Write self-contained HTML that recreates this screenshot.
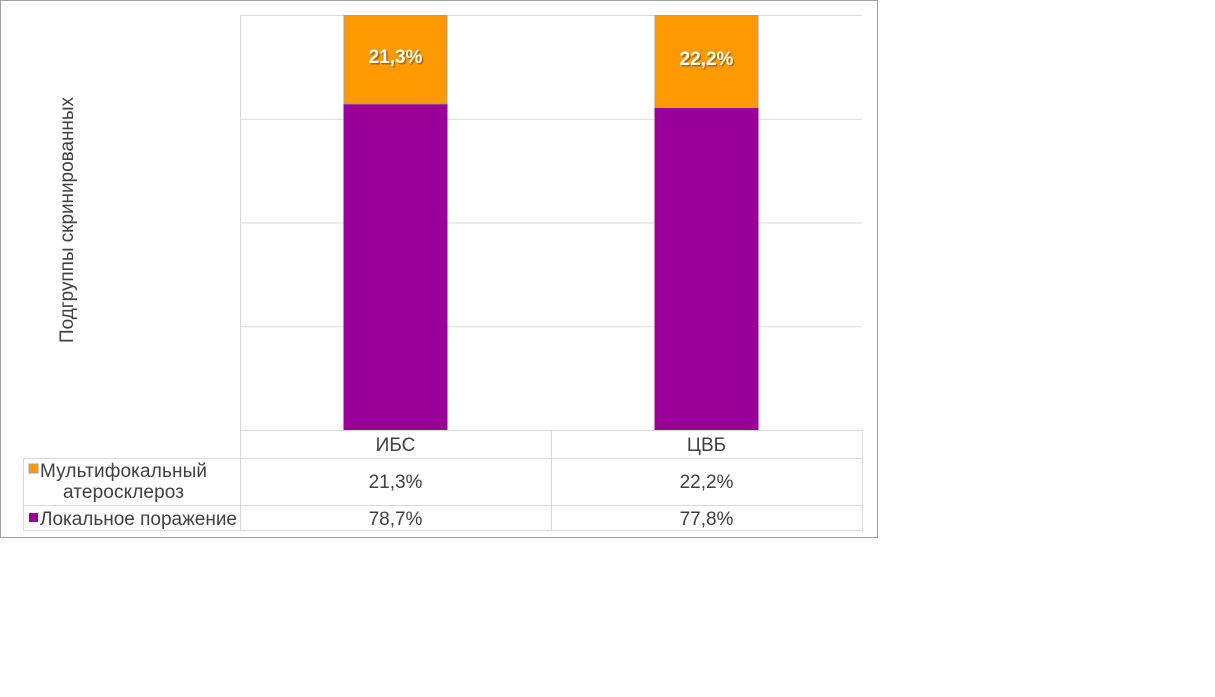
<!DOCTYPE html>
<html><head><meta charset="utf-8"><style>
body{margin:0;background:#fff;width:1215px;height:697px;overflow:hidden}
svg{display:block;font-family:"Liberation Sans",sans-serif}
</style></head><body>
<svg id="c" width="1215" height="697">
<rect x="0.5" y="0.5" width="877" height="537" fill="#fff" stroke="#a0a0a0"/>
<text transform="translate(73,220) rotate(-90)" text-anchor="middle" font-size="19" fill="#404040" textLength="246">Подгруппы скринированных</text>
<g id="grid"></g><g id="bars"></g><g id="tbl"></g>
</svg>
<script>
const categories=["ИБС","ЦВБ"];
const multi=[21.3,22.2];
const local=[78.7,77.8];
const seriesNames=["Мультифокальный атеросклероз","Локальное поражение"];
const ticks=[0,25,50,75,100];
const NS="http://www.w3.org/2000/svg";
const X0=240,X1=862,Y0=430,Y1=15;
const y=v=>Y0-(v/100)*(Y0-Y1);
const colW=(X1-X0)/categories.length;
const cx=i=>X0+colW*(i+0.5);
const FS=19;
function mk(t,a,p,txt){const e=document.createElementNS(NS,t);for(const k in a)e.setAttribute(k,a[k]);if(txt!=null)e.textContent=txt;p.appendChild(e);return e;}
const grid=document.getElementById('grid'),bars=document.getElementById('bars'),tbl=document.getElementById('tbl');
ticks.forEach(t=>{const l=mk('line',{x1:X0,x2:X1,y1:y(t)+0.5,y2:y(t)+0.5,stroke:'#d9d9d9'},grid);

});
const vl=mk('line',{x1:X0+0.5,x2:X0+0.5,y1:Y1,y2:Y0,stroke:'#d9d9d9'},grid);


const bw=104;
categories.forEach((c,i)=>{
 const b1=mk('rect',{x:cx(i)-bw/2,y:y(local[i]),width:bw,height:y(0)-y(local[i]),fill:'#990099'},bars);
 
 
 const b2=mk('rect',{x:cx(i)-bw/2+0.5,y:y(local[i]+multi[i])+0.5,width:bw-1,height:y(local[i])-y(local[i]+multi[i]),fill:'#ff9900',stroke:'#a0a0a0'},bars);
 
 
 const ym=(y(local[i])+y(local[i]+multi[i]))/2+4;
 mk('text',{x:cx(i)+1.5,y:ym+1.5,'text-anchor':'middle','font-size':FS,'font-weight':'bold',fill:'#7a4a00',opacity:0.6},bars,multi[i].toFixed(1).replace('.',',')+'%');
 const lb=mk('text',{x:cx(i),y:ym,'text-anchor':'middle','font-size':FS,'font-weight':'bold',fill:'#fff'},bars,multi[i].toFixed(1).replace('.',',')+'%');
 
 
});
const L=23;
const ln=(x1,y1,x2,y2)=>{const l=mk('line',{x1,y1,x2,y2,stroke:'#d9d9d9'},tbl);};
ln(X0,430.5,X1,430.5);
[458.5,505.5,530.5].forEach(r=>ln(L,r,X1,r));
ln(L+0.5,458,L+0.5,531);ln(X0+0.5,430,X0+0.5,531);ln(X0+colW+0.5,430,X0+colW+0.5,531);ln(X1+0.5,430,X1+0.5,531);
categories.forEach((c,i)=>{
 const t=mk('text',{x:cx(i),y:451,'text-anchor':'middle','font-size':FS,fill:'#404040'},tbl,c);
 
 
 const a=mk('text',{x:cx(i),y:488,'text-anchor':'middle','font-size':FS,fill:'#404040'},tbl,multi[i].toFixed(1).replace('.',',')+'%');
 
 
 const b=mk('text',{x:cx(i),y:525,'text-anchor':'middle','font-size':FS,fill:'#404040'},tbl,local[i].toFixed(1).replace('.',',')+'%');
 
 
});
const k1=mk('rect',{x:29,y:464,width:9,height:9,fill:'#ff9900',stroke:'#a0a0a0'},tbl);


const t1=mk('text',{x:40,y:477,'font-size':FS,fill:'#404040',textLength:167},tbl,"Мультифокальный");


mk('text',{x:63,y:498,'font-size':FS,fill:'#404040',textLength:121},tbl,"атеросклероз");
const k2=mk('rect',{x:29,y:513,width:9,height:9,fill:'#990099'},tbl);


const t2=mk('text',{x:40,y:525,'font-size':FS,fill:'#404040',textLength:197},tbl,"Локальное поражение");


</script>
</body></html>
